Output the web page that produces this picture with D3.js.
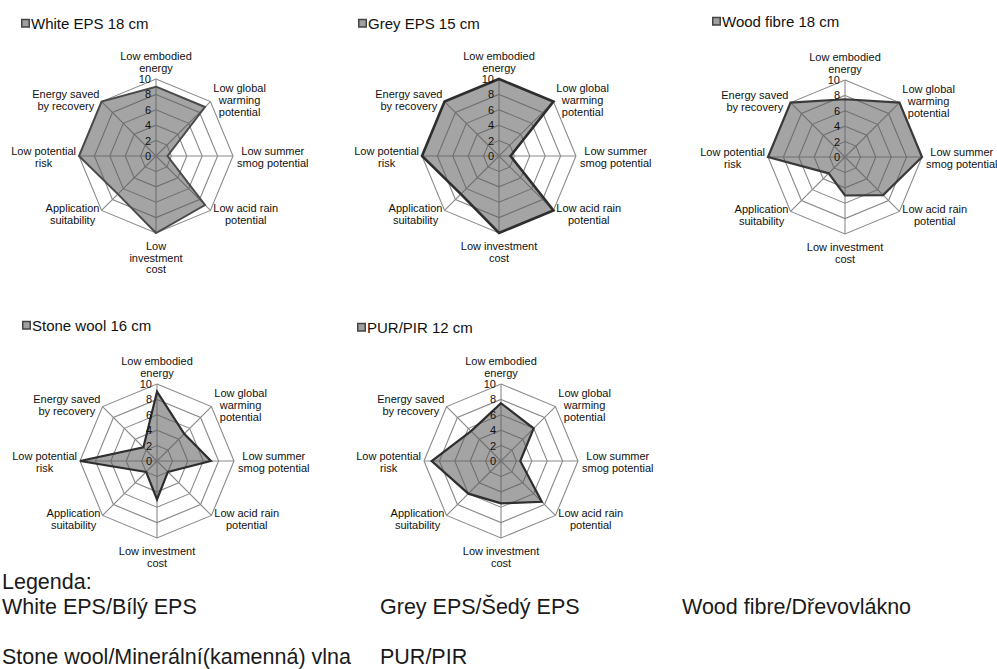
<!DOCTYPE html>
<html>
<head>
<meta charset="utf-8">
<script src="https://cdn.jsdelivr.net/npm/d3@7"></script>
<style>
  html, body { margin: 0; padding: 0; background: #fff; }
  svg { display: block; font-family: "Liberation Sans", Arial, sans-serif; }
</style>
</head>
<body>
<svg id="chart" width="997" height="669"></svg>
<script>
// ---------- data ----------
const categories = [
  "Low embodied energy", "Low global warming potential", "Low summer smog potential",
  "Low acid rain potential", "Low investment cost", "Application suitability",
  "Low potential risk", "Energy saved by recovery"
];
const labelLines = [
  ["Low embodied", "energy"], ["Low global", "warming", "potential"], ["Low summer", "smog potential"],
  ["Low acid rain", "potential"], ["Low investment", "cost"], ["Application", "suitability"],
  ["Low potential", "risk"], ["Energy saved", "by recovery"]
];
const labelLinesNarrow = { 4: ["Low", "investment", "cost"] };
const seriesNames = ["White EPS 18 cm", "Grey EPS 15 cm", "Wood fibre 18 cm", "Stone wool 16 cm", "PUR/PIR 12 cm"];
const whiteEPS  = [9, 9, 1.5, 9, 10, 7, 10, 10];
const greyEPS   = [10, 10, 1.5, 10, 10, 7, 10, 10];
const woodFibre = [7.5, 10, 10, 7, 5, 3, 10, 10];
const stoneWool = [9, 5, 7, 2, 5, 2, 10, 2.5];
const purPir    = [7.5, 6, 2.5, 7.5, 5.5, 6, 9, 5.5];
const tickValues = [0, 2, 4, 6, 8, 10];
const legendTitle = "Legenda:";
const legendRow1 = ["White EPS/Bílý EPS", "Grey EPS/Šedý EPS", "Wood fibre/Dřevovlákno"];
const legendRow2 = ["Stone wool/Minerální(kamenná) vlna", "PUR/PIR"];

// ---------- layout ----------
const R = 77;
const panels = [
  { name: seriesNames[0], values: whiteEPS,  cx: 156, cy: 156, tx: 21,  ty: 29,  narrow: true, sw: 2, sc: "#4a4a4a" },
  { name: seriesNames[1], values: greyEPS,   cx: 499, cy: 156, tx: 358, ty: 29,  sw: 2.6, sc: "#2e2e2e" },
  { name: seriesNames[2], values: woodFibre, cx: 845, cy: 157, tx: 712, ty: 27,  sw: 2.2, sc: "#3a3a3a" },
  { name: seriesNames[3], values: stoneWool, cx: 157, cy: 461, tx: 22,  ty: 331, sw: 2.2, sc: "#2e2e2e" },
  { name: seriesNames[4], values: purPir,    cx: 501, cy: 461, tx: 357, ty: 333, sw: 2.2, sc: "#2e2e2e" }
];

const svg = d3.select("#chart");
const rScale = d3.scaleLinear().domain([0, 10]).range([0, R]);
const aScale = d3.scaleLinear().domain([0, categories.length]).range([0, 2 * Math.PI]);
const radial = d3.lineRadial()
  .angle((d, i) => aScale(i))
  .radius(d => rScale(d))
  .curve(d3.curveLinearClosed);

panels.forEach(p => {
  const g = svg.append("g").attr("transform", `translate(${p.cx},${p.cy})`);

  // grid rings
  tickValues.filter(v => v > 0).forEach(v => {
    g.append("path")
      .attr("d", radial(categories.map(() => v)))
      .attr("fill", "none").attr("stroke", "#8a8a8a").attr("stroke-width", 1.1);
  });
  // spokes
  categories.forEach((c, i) => {
    const a = aScale(i);
    g.append("line")
      .attr("x1", 0).attr("y1", 0)
      .attr("x2", rScale(10) * Math.sin(a)).attr("y2", -rScale(10) * Math.cos(a))
      .attr("stroke", "#8a8a8a").attr("stroke-width", 1.1);
  });

  // series
  g.append("path")
    .attr("d", radial(p.values))
    .attr("fill", "#5a5a5a").attr("fill-opacity", 0.55)
    .attr("stroke", p.sc).attr("stroke-width", p.sw).attr("stroke-linejoin", "miter");

  // tick labels
  tickValues.forEach(v => {
    g.append("text")
      .attr("x", -5).attr("y", -rScale(v))
      .attr("dy", "0.36em")
      .attr("text-anchor", "end")
      .attr("font-size", 11).attr("fill", "#111")
      .text(v);
  });

  // axis labels
  const lh = 11.6;
  categories.forEach((c, i) => {
    const a = aScale(i);
    const s = Math.sin(a), co = Math.cos(a);
    const vx = rScale(10) * s, vy = -rScale(10) * co;
    const lines = (p.narrow && labelLinesNarrow[i]) ? labelLinesNarrow[i] : labelLines[i];
    const n = lines.length;
    const t = g.append("text")
      .attr("text-anchor", "middle")
      .attr("font-size", 11).attr("fill", "#111");
    const spans = lines.map(l => t.append("tspan").text(l));
    const w = d3.max(spans, sp => sp.node().getComputedTextLength());
    let x, y0;
    if (Math.abs(s) < 0.01) {
      x = vx;
      if (co > 0) y0 = vy - 7.5 - (n - 1) * lh;
      else y0 = vy + 17;
    } else {
      if (s > 0) x = vx + 4 * Math.abs(s) + w / 2;
      else x = vx - 3 * Math.abs(s) - w / 2;
      y0 = vy + 4 - (n - 1) * lh / 2 - co * 3.5 + 1;
    }
    spans.forEach((sp, k) => sp.attr("x", x).attr("y", y0 + k * lh));
  });

  // title with marker
  svg.append("rect")
    .attr("x", p.tx + 0.75).attr("y", p.ty - 9.5)
    .attr("width", 7.5).attr("height", 7.5)
    .attr("fill", "#a0a0a0").attr("stroke", "#444").attr("stroke-width", 1.5);
  svg.append("text")
    .attr("x", p.tx + 10).attr("y", p.ty)
    .attr("font-size", 15).attr("fill", "#111")
    .text(p.name);
});

// ---------- legend ----------
svg.append("text").attr("x", 2).attr("y", 589)
  .attr("font-size", 21.5).attr("fill", "#1a1a1a").text(legendTitle);
const colX = [2, 380, 682];
legendRow1.forEach((d, i) => {
  svg.append("text").attr("x", colX[i]).attr("y", 614)
    .attr("font-size", 21.5).attr("fill", "#1a1a1a").text(d);
});
legendRow2.forEach((d, i) => {
  svg.append("text").attr("x", colX[i]).attr("y", 664)
    .attr("font-size", 21.5).attr("fill", "#1a1a1a").text(d);
});
</script>
</body>
</html>
